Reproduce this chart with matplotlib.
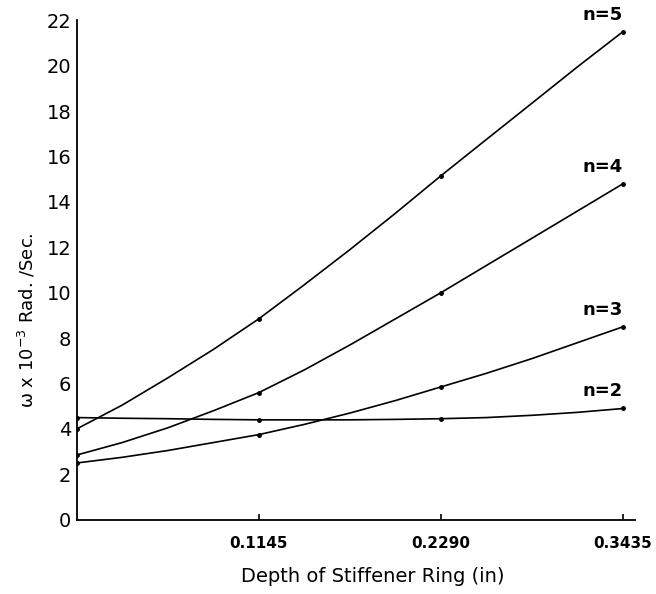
import matplotlib.pyplot as plt

# Depth of stiffener ring (in); the marked points are 0, 0.1145, 0.2290, 0.3435
depth = [0.0, 0.0286, 0.0573, 0.0859, 0.1145, 0.1431, 0.1718,
         0.2004, 0.2290, 0.2576, 0.2863, 0.3149, 0.3435]
node_idx = [0, 4, 8, 12]

# omega x 10^-3 rad/sec
omega_n2 = [4.50, 4.47, 4.45, 4.42, 4.40, 4.40, 4.40, 4.42, 4.45, 4.50, 4.60, 4.73, 4.90]
omega_n3 = [2.50, 2.75, 3.05, 3.40, 3.75, 4.20, 4.70, 5.25, 5.85, 6.45, 7.10, 7.80, 8.50]
omega_n4 = [2.85, 3.40, 4.05, 4.80, 5.60, 6.60, 7.70, 8.85, 10.00, 11.20, 12.40, 13.60, 14.80]
omega_n5 = [4.00, 5.05, 6.25, 7.50, 8.85, 10.35, 11.90, 13.50, 15.15, 16.75, 18.35, 19.95, 21.50]

series = [("n=2", omega_n2), ("n=3", omega_n3), ("n=4", omega_n4), ("n=5", omega_n5)]

xticks = [0.1145, 0.2290, 0.3435]
xtick_labels = ["0.1145", "0.2290", "0.3435"]
yticks = list(range(0, 23, 2))

fig = plt.figure(figsize=(6.56, 5.94), dpi=100)
ax = fig.add_axes([0.117, 0.125, 0.851, 0.841])

for label, vals in series:
    ax.plot(depth, vals, color="black", lw=1.2)
    ax.plot([depth[i] for i in node_idx], [vals[i] for i in node_idx],
            "o", color="black", ms=2.5)
    ax.text(0.3432, vals[-1] + 0.75, label, ha="right", va="center",
            fontsize=13, fontweight="bold")

ax.set_xlim(0, 0.351)
ax.set_ylim(0, 22)
ax.set_xticks(xticks)
ax.set_xticklabels(xtick_labels, fontsize=11, fontweight="bold")
ax.set_yticks(yticks)
ax.set_yticklabels([str(v) for v in yticks], fontsize=14)
ax.tick_params(axis="x", direction="in", length=4, width=1.2, pad=12)
ax.tick_params(axis="y", length=0, pad=4)

for side in ("top", "right"):
    ax.spines[side].set_visible(False)
for side in ("left", "bottom"):
    ax.spines[side].set_linewidth(1.3)

ax.set_xlabel("Depth of Stiffener Ring (in)", fontsize=14)
ax.xaxis.set_label_coords(0.53, -0.095)
ax.set_ylabel("ω x 10$^{-3}$ Rad. /Sec.", fontsize=13)
ax.yaxis.set_label_coords(-0.07, 0.40)

fig.savefig("out.png", dpi=100)
